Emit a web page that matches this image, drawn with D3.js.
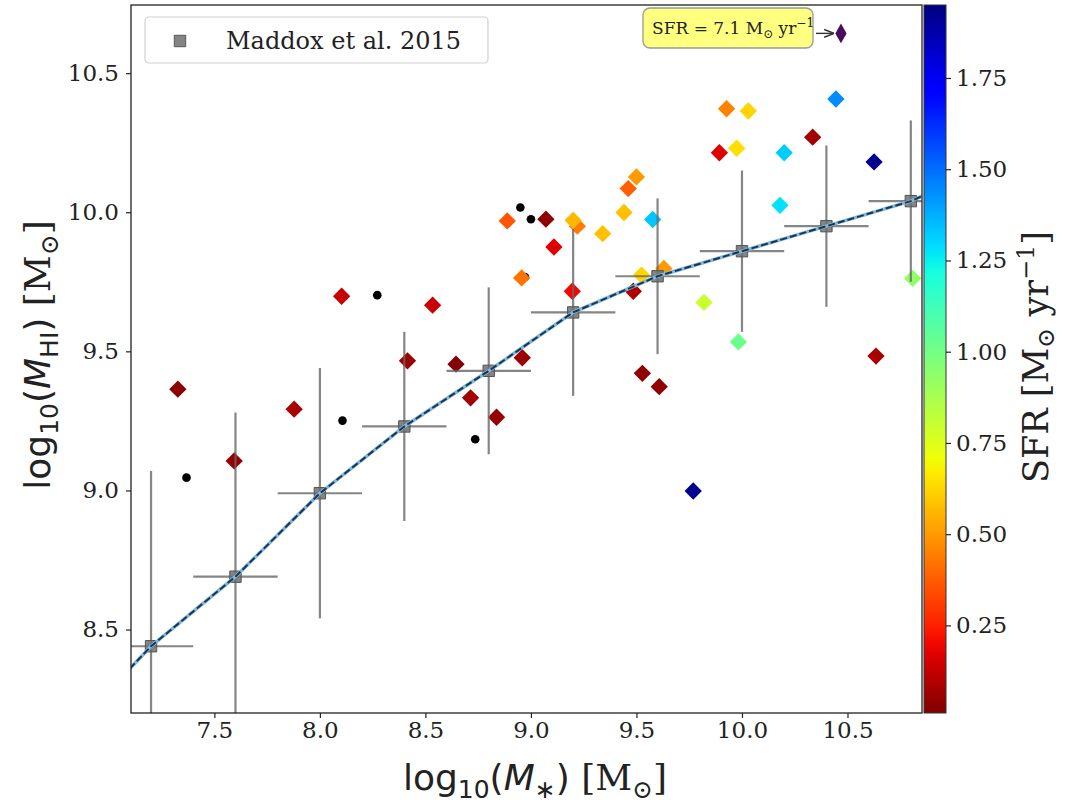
<!DOCTYPE html>
<html>
<head>
<meta charset="utf-8">
<script src="https://cdn.jsdelivr.net/npm/d3@7"></script>
<style>
  body { margin: 0; background: #fff; }
  text { font-family: "DejaVu Serif", serif; fill: #222; }
</style>
</head>
<body>
<svg id="chart" width="1065" height="805"></svg>
<script>
// Maddox et al. 2015 binned relation
const maddoxX = [7.2, 7.6, 8.0, 8.4, 8.8, 9.2, 9.6, 10.0, 10.4, 10.8];
const maddoxY = [8.44, 8.69, 8.99, 9.23, 9.43, 9.64, 9.77, 9.86, 9.95, 10.04];
const maddoxYErr = [0.63, 0.59, 0.45, 0.34, 0.30, 0.30, 0.28, 0.29, 0.29, 0.29];
const maddoxXErr = [0.2, 0.2, 0.2, 0.2, 0.2, 0.2, 0.2, 0.2, 0.2, 0.2];

// dashed line through the relation (ends at the axes edges)
const fitX = [7.1, 7.2, 7.6, 8.0, 8.4, 8.8, 9.2, 9.6, 10.0, 10.4, 10.8, 10.86];
const fitY = [8.36, 8.44, 8.69, 8.99, 9.23, 9.43, 9.64, 9.77, 9.86, 9.95, 10.04, 10.06];

// galaxies with SFR (diamonds)
const galX = [7.327, 7.594, 7.878, 8.103, 8.534, 8.415, 8.645, 8.714, 8.837, 8.959,
  8.888, 9.071, 9.109, 8.956, 9.22, 9.2, 9.34, 9.441, 9.461, 9.5,
  9.577, 9.196, 9.485, 9.524, 9.63, 9.528, 9.608, 9.82, 9.983, 9.769,
  9.893, 9.927, 10.03, 9.975, 10.2, 10.18, 10.335, 10.445, 10.626, 10.635, 10.809];
const galY = [9.364, 9.106, 9.292, 9.698, 9.666, 9.466, 9.454, 9.333, 9.263, 9.477,
  9.969, 9.975, 9.875, 9.764, 9.95, 9.971, 9.923, 9.999, 10.085, 10.127,
  9.974, 9.716, 9.716, 9.774, 9.798, 9.421, 9.373, 9.676, 9.534, 8.998,
  10.214, 10.372, 10.364, 10.23, 10.214, 10.025, 10.27, 10.407, 10.181, 9.483, 9.762];
const galSFR = [0.03, 0.05, 0.08, 0.13, 0.13, 0.06, 0.02, 0.07, 0.05, 0.06,
  0.36, 0.04, 0.17, 0.42, 0.44, 0.56, 0.58, 0.58, 0.38, 0.50,
  1.33, 0.20, 0.09, 0.62, 0.50, 0.04, 0.04, 0.80, 1.02, 1.92,
  0.17, 0.45, 0.62, 0.64, 1.32, 1.28, 0.07, 1.44, 1.92, 0.08, 0.93];

// galaxies without SFR (black dots)
const dotX = [7.368, 8.107, 8.272, 8.736, 8.95, 9.0, 8.972];
const dotY = [9.046, 9.251, 9.702, 9.184, 10.017, 9.975, 9.767];

// outlier with SFR beyond the colour range
const outlierX = [10.469];
const outlierY = [10.643];
const outlierSFR = [7.1];

const xTicks = [7.5, 8.0, 8.5, 9.0, 9.5, 10.0, 10.5];
const yTicks = [8.5, 9.0, 9.5, 10.0, 10.5];
const cbTicks = [0.25, 0.5, 0.75, 1.0, 1.25, 1.5, 1.75];
const sfrRange = [0.01, 1.95];

// layout
const plot = {left: 131, top: 5, right: 922, bottom: 713};
const cb = {left: 924, right: 946};

const svg = d3.select("#chart");

const xScale = d3.scaleLinear().domain([7.105, 10.853]).range([plot.left, plot.right]);
const yScale = d3.scaleLinear().domain([8.2, 10.745]).range([plot.bottom, plot.top]);
const cbScale = d3.scaleLinear().domain(sfrRange).range([plot.bottom, plot.top]);

// matplotlib jet, reversed
const jetR = [[0, 0], [0.35, 0], [0.66, 1], [0.89, 1], [1, 0.5]];
const jetG = [[0, 0], [0.125, 0], [0.375, 1], [0.64, 1], [0.91, 0], [1, 0]];
const jetB = [[0, 0.5], [0.11, 1], [0.34, 1], [0.65, 0], [1, 0]];
function seg(pts, s) {
  for (let i = 1; i < pts.length; i++) {
    if (s <= pts[i][0]) {
      const t = (s - pts[i-1][0]) / (pts[i][0] - pts[i-1][0]);
      return pts[i-1][1] + t * (pts[i][1] - pts[i-1][1]);
    }
  }
  return pts[pts.length - 1][1];
}
function jet(s) {
  s = Math.max(0, Math.min(1, s));
  return d3.rgb(255 * seg(jetR, s), 255 * seg(jetG, s), 255 * seg(jetB, s)).formatHex();
}
const sfrColor = v => jet(1 - (v - sfrRange[0]) / (sfrRange[1] - sfrRange[0]));

// clip to axes
svg.append("clipPath").attr("id", "clip")
  .append("rect")
  .attr("x", plot.left).attr("y", plot.top)
  .attr("width", plot.right - plot.left).attr("height", plot.bottom - plot.top);

const chart = svg.append("g").attr("clip-path", "url(#clip)");

// black dots
chart.selectAll("circle.dot")
  .data(dotX.map((d, i) => ({x: d, y: dotY[i]})))
  .enter()
  .append("circle")
  .attr("class", "dot")
  .attr("cx", d => xScale(d.x))
  .attr("cy", d => yScale(d.y))
  .attr("r", 4.3)
  .style("fill", "black");

// diamonds
const diamond = d3.symbol().type(d3.symbolSquare).size(150);
chart.selectAll("path.gal")
  .data(galX.map((d, i) => ({x: d, y: galY[i], sfr: galSFR[i]})))
  .enter()
  .append("path")
  .attr("class", "gal")
  .attr("d", diamond)
  .attr("transform", d => "translate(" + xScale(d.x) + "," + yScale(d.y) + ") rotate(45)")
  .style("fill", d => sfrColor(d.sfr));

// outlier, thin diamond
chart.selectAll("path.outlier")
  .data(outlierX.map((d, i) => ({x: d, y: outlierY[i], sfr: outlierSFR[i]})))
  .enter()
  .append("path")
  .attr("class", "outlier")
  .attr("d", d3.symbol().type(d3.symbolDiamond).size(110))
  .attr("transform", d => "translate(" + xScale(d.x) + "," + yScale(d.y) + ")")
  .style("fill", "#4b0a5a");

// Maddox error bars
const maddox = maddoxX.map((d, i) => ({x: d, y: maddoxY[i], ex: maddoxXErr[i], ey: maddoxYErr[i]}));
const errG = chart.append("g")
  .style("stroke", "#666")
  .style("stroke-opacity", 0.8)
  .style("stroke-width", 2.2);
errG.selectAll("line.ey").data(maddox).enter().append("line")
  .attr("x1", d => xScale(d.x)).attr("x2", d => xScale(d.x))
  .attr("y1", d => yScale(d.y - d.ey)).attr("y2", d => yScale(d.y + d.ey));
errG.selectAll("line.ex").data(maddox).enter().append("line")
  .attr("x1", d => xScale(d.x - d.ex)).attr("x2", d => xScale(d.x + d.ex))
  .attr("y1", d => yScale(d.y)).attr("y2", d => yScale(d.y));

const square = d3.symbol().type(d3.symbolSquare).size(130);
chart.selectAll("path.maddox").data(maddox).enter().append("path")
  .attr("class", "maddox")
  .attr("d", square)
  .attr("transform", d => "translate(" + xScale(d.x) + "," + yScale(d.y) + ")")
  .style("fill", "#6e6e6e")
  .style("fill-opacity", 0.85)
  .style("stroke", "#555")
  .style("stroke-width", 1);

// dashed line
const fitLine = d3.line().x(d => xScale(d[0])).y(d => yScale(d[1]));
const fitData = fitX.map((d, i) => [d, fitY[i]]);
chart.append("path")
  .attr("d", fitLine(fitData))
  .attr("fill", "none")
  .attr("stroke", "#7fb8dc")
  .attr("stroke-width", 3.5);
chart.append("path")
  .attr("d", fitLine(fitData))
  .attr("fill", "none")
  .attr("stroke", "#1b3550")
  .attr("stroke-width", 2)
  .attr("stroke-dasharray", "7,3");

// axes
const xAxis = d3.axisBottom(xScale).tickValues(xTicks).tickFormat(d3.format(".1f"))
  .tickSize(5).tickSizeOuter(0).tickPadding(4);
const yAxis = d3.axisLeft(yScale).tickValues(yTicks).tickFormat(d3.format(".1f"))
  .tickSize(5).tickSizeOuter(0).tickPadding(7);

const gx = svg.append("g")
  .attr("transform", "translate(0," + plot.bottom + ")")
  .call(xAxis);
const gy = svg.append("g")
  .attr("transform", "translate(" + plot.left + ",0)")
  .call(yAxis);
[gx, gy].forEach(g => {
  g.select(".domain").remove();
  g.selectAll("line").attr("stroke", "#222").attr("stroke-width", 1.2);
  g.selectAll("text").style("font-family", "DejaVu Serif").style("font-size", "23px").attr("fill", "#222");
});

// frame
svg.append("rect")
  .attr("x", plot.left).attr("y", plot.top)
  .attr("width", plot.right - plot.left).attr("height", plot.bottom - plot.top)
  .attr("fill", "none").attr("stroke", "#222").attr("stroke-width", 1.3);

// colorbar
const grad = svg.append("defs").append("linearGradient")
  .attr("id", "jetgrad")
  .attr("x1", 0).attr("y1", 1).attr("x2", 0).attr("y2", 0);
d3.range(0, 1.0001, 0.02).forEach(t => {
  grad.append("stop").attr("offset", t).attr("stop-color", jet(1 - t));
});
svg.append("rect")
  .attr("x", cb.left).attr("y", plot.top)
  .attr("width", cb.right - cb.left).attr("height", plot.bottom - plot.top)
  .attr("fill", "url(#jetgrad)")
  .attr("stroke", "#333").attr("stroke-width", 1);

const cbAxis = d3.axisRight(cbScale).tickValues(cbTicks).tickFormat(d3.format(".2f"))
  .tickSize(5).tickSizeOuter(0).tickPadding(5);
const gc = svg.append("g").attr("transform", "translate(" + cb.right + ",0)").call(cbAxis);
gc.select(".domain").remove();
gc.selectAll("line").attr("stroke", "#222").attr("stroke-width", 1.2);
gc.selectAll("text").style("font-family", "DejaVu Serif").style("font-size", "23px").attr("fill", "#222");

// axis labels
function mathLabel(sel, sub) {
  sel.append("tspan").style("font-family", "DejaVu Sans").text("log");
  sel.append("tspan").style("font-family", "DejaVu Sans").style("font-size", "25px").attr("dy", 8).text("10");
  sel.append("tspan").style("font-family", "DejaVu Sans").attr("dy", -8).text("(");
  sel.append("tspan").style("font-family", "DejaVu Sans").style("font-style", "italic").text("M");
  sel.append("tspan").style("font-family", "DejaVu Sans").style("font-size", "25px").attr("dy", 8).text(sub);
  sel.append("tspan").style("font-family", "DejaVu Sans").attr("dy", -8).text(")");
  sel.append("tspan").text(" [M");
  sel.append("tspan").style("font-size", "25px").attr("dy", 8).text("⊙");
  sel.append("tspan").attr("dy", -8).text("]");
}
const xl = svg.append("text")
  .attr("x", 535).attr("y", 790)
  .attr("text-anchor", "middle")
  .style("font-size", "36px");
mathLabel(xl, "∗");

const yl = svg.append("text")
  .attr("transform", "translate(50,355) rotate(-90)")
  .attr("text-anchor", "middle")
  .style("font-size", "36px");
mathLabel(yl, "HI");

const cl = svg.append("text")
  .attr("transform", "translate(1048,357) rotate(-90)")
  .attr("text-anchor", "middle")
  .style("font-size", "35px");
cl.append("tspan").text("SFR [M");
cl.append("tspan").style("font-size", "24px").attr("dy", 6).text("⊙");
cl.append("tspan").attr("dy", -6).text(" yr");
cl.append("tspan").style("font-size", "24px").attr("dy", -14).text("−1");
cl.append("tspan").attr("dy", 14).text("]");

// legend
svg.append("rect")
  .attr("x", 145).attr("y", 17).attr("width", 343).attr("height", 46)
  .attr("rx", 4)
  .attr("fill", "white").attr("fill-opacity", 0.85)
  .attr("stroke", "#d0d0d0").attr("stroke-width", 1.2);
svg.append("path")
  .attr("d", square)
  .attr("transform", "translate(180,41)")
  .style("fill", "#6e6e6e").style("fill-opacity", 0.85)
  .style("stroke", "#555").style("stroke-width", 1);
svg.append("text")
  .attr("x", 226).attr("y", 49)
  .style("font-size", "24px")
  .text("Maddox et al. 2015");

// annotation for the outlier
const ax = xScale(outlierX[0]);
const ay = yScale(outlierY[0]);
svg.append("rect")
  .attr("x", 643).attr("y", 8).attr("width", 170).attr("height", 40)
  .attr("rx", 7)
  .attr("fill", "#ffff80")
  .attr("stroke", "#999").attr("stroke-width", 1.3);
const at = svg.append("text")
  .attr("x", 652).attr("y", 34)
  .style("font-size", "17px");
at.append("tspan").text("SFR = 7.1 M");
at.append("tspan").style("font-size", "12px").attr("dy", 4).text("⊙");
at.append("tspan").attr("dy", -4).text(" yr");
at.append("tspan").style("font-size", "12px").attr("dy", -7).text("−1");

svg.append("defs").append("marker")
  .attr("id", "arrow")
  .attr("viewBox", "0 0 10 10")
  .attr("refX", 10).attr("refY", 5)
  .attr("markerWidth", 7).attr("markerHeight", 7)
  .attr("orient", "auto")
  .append("path")
  .attr("d", "M0,1 L10,5 L0,9")
  .attr("fill", "none").attr("stroke", "#333").attr("stroke-width", 1.5);
svg.append("line")
  .attr("x1", 816).attr("y1", ay)
  .attr("x2", ax - 7).attr("y2", ay)
  .attr("stroke", "#333").attr("stroke-width", 1.4)
  .attr("marker-end", "url(#arrow)");
</script>
</body>
</html>
